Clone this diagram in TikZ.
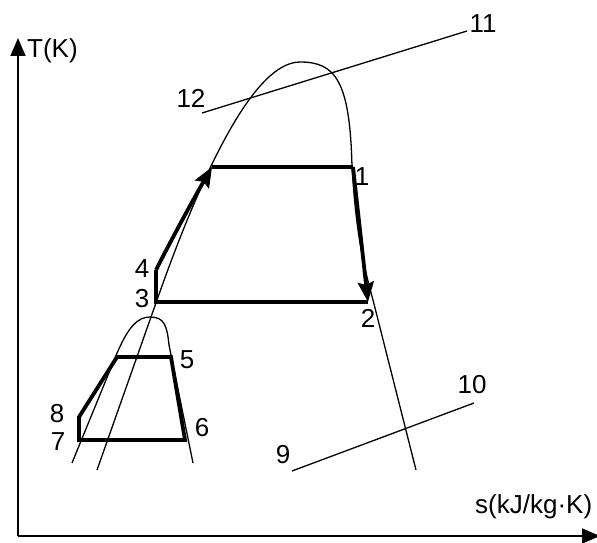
\documentclass[tikz,border=0pt]{standalone}
\usepackage{fontspec}
\setmainfont{Liberation Sans}
\usetikzlibrary{arrows.meta}
\tikzset{
  thinline/.style={line width=1.3pt},
  cycleline/.style={line width=3.8pt},
  cyclearrow/.style={line width=3.8pt,-{Stealth[length=20pt,width=16pt,inset=3pt]}},
  axisarrow/.style={line width=1.7pt,-{Triangle[length=18pt,width=15pt]}},
  lbl/.style={inner sep=0pt,anchor=base,font=\fontsize{26}{30}\selectfont}
}
\begin{document}
\begin{tikzpicture}[x=1pt,y=-1pt]
\useasboundingbox (0,0) rectangle (597,543);
% axes
\coordinate (O) at (18,536);
\coordinate (Ytop) at (18,38);
\coordinate (Xend) at (600,536);
\draw[axisarrow] (O) -- (Ytop);
\draw[axisarrow] (O) -- (Xend);
\node[lbl,anchor=base west] (tk) at (27,58) {T(K)};
\node[lbl,anchor=base west] (sk) at (475,513) {s(kJ/kg·K)};
% big dome
\coordinate (bdL) at (97,470);
\coordinate (bdA) at (157,300);
\coordinate (bdTop) at (300,62);
\coordinate (bdB) at (352,167);
\coordinate (bdC) at (373,300);
\coordinate (bdR) at (416,470);
\draw[thinline] (bdL) -- (bdA) .. controls (195,192) and (250,62) .. (bdTop)
  .. controls (335,62) and (350,80) .. (bdB)
  .. controls (356,230) and (362,260) .. (bdC) -- (bdR);
% small dome
\coordinate (sdL) at (72,463);
\coordinate (sdLt) at (115,358);
\coordinate (sdTop) at (150,317);
\coordinate (sdRt) at (169,345);
\coordinate (sdR) at (193,463);
\draw[thinline] (sdL) -- (sdLt) .. controls (128,326) and (138,317) .. (sdTop) .. controls (164,317) and (167,325) .. (sdRt) -- (sdR);
% lines 11-12 and 9-10
\coordinate (a12) at (202,113);
\coordinate (a11) at (467,31);
\draw[thinline] (a12) -- (a11);
\coordinate (a9) at (292,471);
\coordinate (a10) at (474,403);
\draw[thinline] (a9) -- (a10);
% big cycle
\coordinate (p1) at (353,167);
\coordinate (p2) at (368,302);
\coordinate (p3) at (156,302);
\coordinate (p4) at (156,270);
\coordinate (pA) at (212,167);
\draw[cycleline,line join=miter] (p2) -- (p3) -- (p4);
\draw[cyclearrow] (p4) .. controls (166,250) and (190,205) .. (pA);
\draw[cycleline] (pA) -- (p1);
\draw[cyclearrow] (p1) -- (p2);
% small cycle
\coordinate (p5) at (171,357);
\coordinate (pB) at (117,357);
\coordinate (p8) at (79,417);
\coordinate (p7) at (79,440);
\coordinate (p6) at (185,440);
\draw[cycleline,line join=miter] (p5) -- (pB) -- (p8) -- (p7) -- (p6) -- cycle;
% labels
\node[lbl] (l1) at (362,185) {1};
\node[lbl] (l2) at (368,327) {2};
\node[lbl] (l3) at (142,307) {3};
\node[lbl] (l4) at (142,277) {4};
\node[lbl] (l5) at (187,368) {5};
\node[lbl] (l6) at (202,436) {6};
\node[lbl] (l7) at (58,450) {7};
\node[lbl] (l8) at (57,422) {8};
\node[lbl] (l9) at (283,463) {9};
\node[lbl] (l10) at (472,393) {10};
\node[lbl] (l11) at (483,33) {11};
\node[lbl] (l12) at (191,107) {12};
\end{tikzpicture}
\end{document}
